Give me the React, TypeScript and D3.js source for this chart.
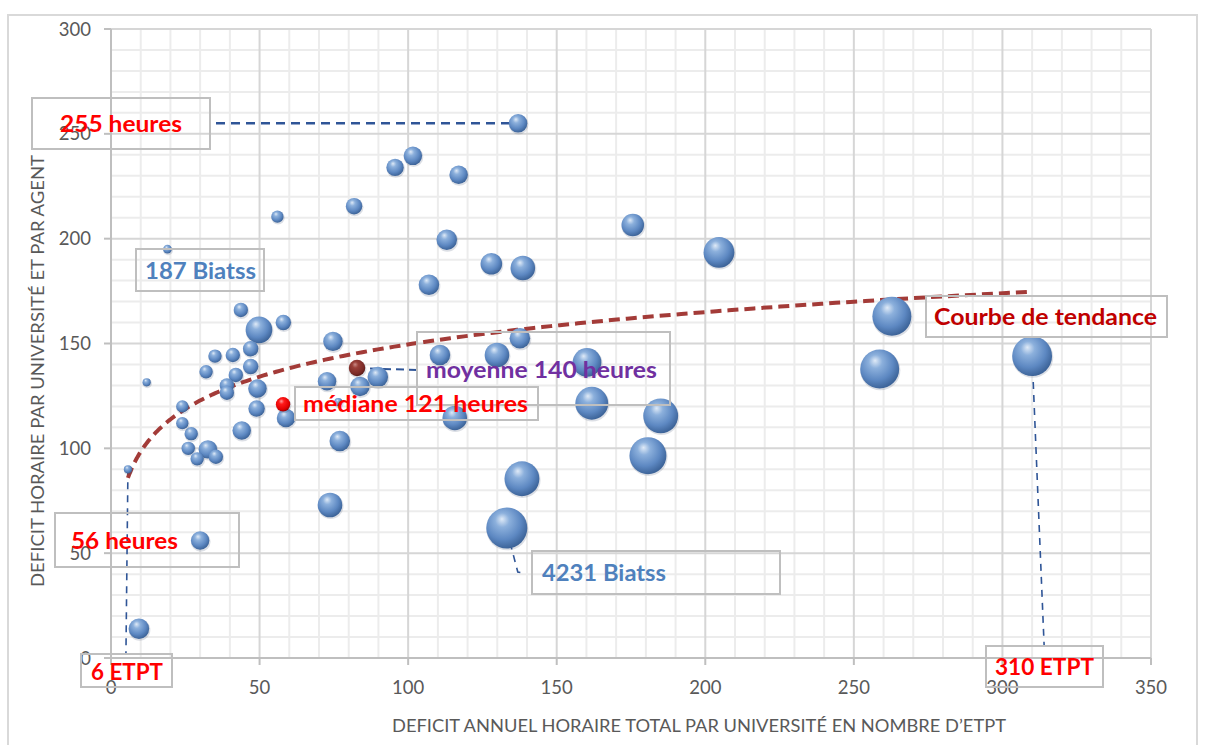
import React from 'react';
import * as d3 from 'd3';

// ---- Data ----
// X: déficit annuel horaire total par université (ETPT)
const etpt = [137, 101.6, 95.6, 117, 81.8, 56, 113, 175.6, 204.6, 19, 128, 138.6, 107,
  43.7, 49.8, 58, 74.7, 47, 35, 41, 47, 32, 42, 39, 39, 49.3, 49, 58.9, 24, 24, 27, 26,
  32.6, 29, 35.3, 44, 12, 5.7, 72.7, 77, 83.8, 89.8, 76.5, 73.7, 30, 9.4, 110.7, 129.9,
  137.6, 160.2, 161.8, 115.7, 185, 180.7, 138.3, 133.2, 262.8, 258.7, 310];
// Y: déficit horaire par université et par agent (heures)
const heures = [255, 239.5, 234, 230.5, 215.5, 210.5, 199.5, 206.5, 193.5, 195, 188, 186, 178,
  166, 156.5, 160, 151, 147.5, 144, 144.5, 139, 136.5, 135, 130, 126.5, 128.5, 119, 114.5,
  120, 112, 107, 100, 99.5, 95, 96, 108.5, 131.5, 90, 132, 103.5, 129.5, 134, 122, 73, 56,
  14, 144.5, 144.5, 152.5, 141, 121.5, 114.5, 115.5, 96.5, 85.5, 62, 163, 137.8, 144];
// Bubble size: number of Biatss
const biatss = [860, 860, 760, 860, 680, 380, 1060, 1280, 2380, 187, 1170, 1520, 1060,
  520, 1790, 600, 950, 600, 450, 520, 600, 450, 520, 520, 520, 860, 680, 860, 380, 380,
  450, 450, 860, 450, 520, 860, 170, 170, 860, 1060, 950, 1060, 170, 1520, 860, 1060,
  1060, 1520, 1060, 2070, 2710, 1520, 3060, 3430, 3060, 4231, 3820, 3820, 4000];

const meanX = [82.8];
const meanY = [138.3];
const meanSize = [680];
const medianX = [57.9];
const medianY = [121];
const medianSize = [520];

const xTicks = [0, 50, 100, 150, 200, 250, 300, 350];
const yTicks = [0, 50, 100, 150, 200, 250, 300];
const xMinor = d3.range(0, 351, 10);
const yMinor = d3.range(0, 301, 10);

const xTitle = 'DEFICIT ANNUEL HORAIRE TOTAL PAR UNIVERSITÉ EN NOMBRE D\u2019ETPT';
const yTitle = 'DEFICIT HORAIRE PAR UNIVERSITÉ ET PAR AGENT';

// ---- Layout ----
const W = 1206;
const H = 745;
const PL = 111, PR = 1151, PT = 29, PB = 658;
const FONT = 'Lato, "Open Sans", sans-serif';

type Note = {
  text: string; color: string; tx: number; ty: number; len: number;
  box: [number, number, number, number];
};
const notes: Note[] = [
  { text: '255 heures', color: '#ff0000', tx: 60, ty: 132, len: 122, box: [32, 98, 210, 149] },
  { text: '187 Biatss', color: '#4f81bd', tx: 145, ty: 279, len: 111, box: [136, 249, 264, 291] },
  { text: 'moyenne 140 heures', color: '#7030a0', tx: 426, ty: 378, len: 231, box: [417, 332, 670, 405] },
  { text: 'médiane 121 heures', color: '#ff0000', tx: 303, ty: 412, len: 225, box: [295, 387, 538, 420] },
  { text: '56 heures', color: '#ff0000', tx: 71, ty: 549, len: 107, box: [55, 513, 239, 567] },
  { text: '6 ETPT', color: '#ff0000', tx: 91, ty: 680, len: 72, box: [81, 654, 172, 687] },
  { text: '4231 Biatss', color: '#4f81bd', tx: 542, ty: 581, len: 124, box: [532, 551, 780, 594] },
  { text: 'Courbe de tendance', color: '#c00000', tx: 934, ty: 325, len: 223, box: [926, 296, 1167, 337] },
  { text: '310 ETPT', color: '#ff0000', tx: 995, ty: 675, len: 99, box: [986, 646, 1103, 687] },
];

export default function App() {
  const x = d3.scaleLinear().domain([0, 350]).range([PL, PR]);
  const y = d3.scaleLinear().domain([0, 300]).range([PB, PT]);
  const r = d3.scaleSqrt().domain([0, 4231]).range([0, 20.5]);

  const pts = etpt.map((v, i) => ({ x: v, y: heures[i], s: biatss[i] }));
  const drawOrder = [...pts].sort((a, b) => b.s - a.s);

  // logarithmic trend line (least squares on ln x)
  const lx = pts.map(p => Math.log(p.x));
  const mlx = d3.mean(lx) as number;
  const my = d3.mean(pts, p => p.y) as number;
  let sxy = 0, sxx = 0;
  pts.forEach((p, i) => { sxy += (lx[i] - mlx) * (p.y - my); sxx += (lx[i] - mlx) ** 2; });
  const a = sxy / sxx;
  const b = my - a * mlx;
  const xmin = d3.min(etpt) as number;
  const xmax = d3.max(etpt) as number;
  const trendPts = d3.range(0, 201).map(k => {
    const xv = xmin * Math.pow(xmax / xmin, k / 200);
    return [xv, a * Math.log(xv) + b] as [number, number];
  });
  const trendPath = d3.line<[number, number]>().x(d => x(d[0])).y(d => y(d[1]))(trendPts) as string;

  // anchors for leader lines
  const top = pts.reduce((m, p) => (p.y > m.y ? p : m), pts[0]);
  const big = pts.reduce((m, p) => (p.s > m.s ? p : m), pts[0]);
  const far = pts.reduce((m, p) => (p.x > m.x ? p : m), pts[0]);
  const near = pts.reduce((m, p) => (p.x < m.x ? p : m), pts[0]);
  const lead = '#2f5597';

  const bubble = (cx: number, cy: number, rr: number, grad: string, key: string | number) => (
    <g key={key}>
      <circle cx={cx + 0.6} cy={cy + 1.2} r={rr + 0.6} fill="rgba(60,80,110,0.18)" />
      <circle cx={cx} cy={cy} r={rr} fill={`url(#${grad})`} />
    </g>
  );

  return (
    <svg width={W} height={H} style={{ position: 'absolute', left: 0, top: 0, background: '#fff' }}
      fontFamily={FONT}>
      <defs>
        <radialGradient id="gBlue" cx="0.42" cy="0.38" r="0.62" fx="0.38" fy="0.28">
          <stop offset="0" stopColor="#dfeaf7" />
          <stop offset="0.28" stopColor="#8cb0dc" />
          <stop offset="0.7" stopColor="#5d88c2" />
          <stop offset="1" stopColor="#3d6499" />
        </radialGradient>
        <radialGradient id="gRed" cx="0.42" cy="0.38" r="0.62" fx="0.38" fy="0.28">
          <stop offset="0" stopColor="#ff9a9a" />
          <stop offset="0.3" stopColor="#ff1a1a" />
          <stop offset="0.8" stopColor="#e00000" />
          <stop offset="1" stopColor="#a00000" />
        </radialGradient>
        <radialGradient id="gDark" cx="0.42" cy="0.38" r="0.62" fx="0.38" fy="0.28">
          <stop offset="0" stopColor="#c98a84" />
          <stop offset="0.3" stopColor="#9a3f38" />
          <stop offset="0.8" stopColor="#7b2b27" />
          <stop offset="1" stopColor="#5a1d1a" />
        </radialGradient>
      </defs>

      {/* outer chart border */}
      <rect x={8} y={15} width={1189} height={740} fill="none" stroke="#d9d9d9" strokeWidth={2} />

      {/* minor grid */}
      {xMinor.filter(v => v % 50 !== 0).map(v => (
        <line key={'xm' + v} x1={x(v)} x2={x(v)} y1={y(0)} y2={y(300)} stroke="#ececec" strokeWidth={2} />
      ))}
      {yMinor.filter(v => v % 50 !== 0).map(v => (
        <line key={'ym' + v} x1={x(0)} x2={x(350)} y1={y(v)} y2={y(v)} stroke="#ececec" strokeWidth={2} />
      ))}
      {/* major grid */}
      {xTicks.filter(v => v > 0).map(v => (
        <line key={'xM' + v} x1={x(v)} x2={x(v)} y1={y(0)} y2={y(300)} stroke="#d6d6d6" strokeWidth={2} />
      ))}
      {yTicks.filter(v => v > 0).map(v => (
        <line key={'yM' + v} x1={x(0)} x2={x(350)} y1={y(v)} y2={y(v)} stroke="#d6d6d6" strokeWidth={2} />
      ))}

      {/* axes */}
      <line x1={x(0)} x2={x(0)} y1={y(0)} y2={y(300)} stroke="#bfbfbf" strokeWidth={2} />
      <line x1={x(0)} x2={x(350)} y1={y(0)} y2={y(0)} stroke="#bfbfbf" strokeWidth={2} />
      {yTicks.map(v => (
        <line key={'yt' + v} x1={x(0) - 7} x2={x(0)} y1={y(v)} y2={y(v)} stroke="#bfbfbf" strokeWidth={2} />
      ))}
      {xTicks.map(v => (
        <line key={'xt' + v} x1={x(v)} x2={x(v)} y1={y(0)} y2={y(0) + 7} stroke="#bfbfbf" strokeWidth={2} />
      ))}
      {yTicks.map(v => (
        <text key={'yl' + v} x={91} y={y(v)} dy="0.36em" textAnchor="end" fontSize={18.5} fill="#595959">{v}</text>
      ))}
      {xTicks.map(v => (
        <text key={'xl' + v} x={x(v)} y={694} textAnchor="middle" fontSize={18.5} fill="#595959">{v}</text>
      ))}

      {/* axis titles */}
      <text x={699} y={732} textAnchor="middle" fontSize={16.5} fill="#595959"
        textLength={614} lengthAdjust="spacingAndGlyphs">{xTitle}</text>
      <text transform="translate(44,371) rotate(-90)" textAnchor="middle" fontSize={16.5} fill="#595959"
        textLength={432} lengthAdjust="spacingAndGlyphs">{yTitle}</text>

      {/* leader lines */}
      <g stroke={lead} fill="none">
        <line x1={216} x2={x(top.x)} y1={y(top.y)} y2={y(top.y)} strokeWidth={2.5} strokeDasharray="9,6" />
        <line x1={x(near.x)} x2={x(near.x) - 2} y1={y(near.y)} y2={654} strokeWidth={1.6} strokeDasharray="7,6" />
        <line x1={x(far.x)} x2={x(far.x) + 12} y1={y(far.y)} y2={646} strokeWidth={1.6} strokeDasharray="7,6" />
        <path d={`M${x(big.x)},${y(big.y) + 2} L${x(big.x) + 11},${572} L${x(big.x) + 17},${573}`}
          strokeWidth={1.6} strokeDasharray="7,6" />
        <line x1={x(meanX[0])} x2={417} y1={y(meanY[0])} y2={y(meanY[0]) + 2} strokeWidth={2} strokeDasharray="8,5" />
      </g>

      {/* trend line */}
      <path d={trendPath} fill="none" stroke="#a33b38" strokeWidth={4} strokeDasharray="11,6" />

      {/* bubbles */}
      {drawOrder.map((p, i) => bubble(x(p.x), y(p.y), r(p.s), 'gBlue', i))}
      {meanX.map((v, i) => bubble(x(v), y(meanY[i]), r(meanSize[i]), 'gDark', 'mean' + i))}
      {medianX.map((v, i) => bubble(x(v), y(medianY[i]), r(medianSize[i]), 'gRed', 'med' + i))}

      {/* annotations */}
      {notes.map(n => (
        <g key={n.text}>
          <rect x={n.box[0]} y={n.box[1]} width={n.box[2] - n.box[0]} height={n.box[3] - n.box[1]}
            fill="none" stroke="#bfbfbf" strokeWidth={2} />
          <text x={n.tx} y={n.ty} fontSize={22} fontWeight={700} fill={n.color}
            textLength={n.len} lengthAdjust="spacingAndGlyphs">{n.text}</text>
        </g>
      ))}
    </svg>
  );
}
